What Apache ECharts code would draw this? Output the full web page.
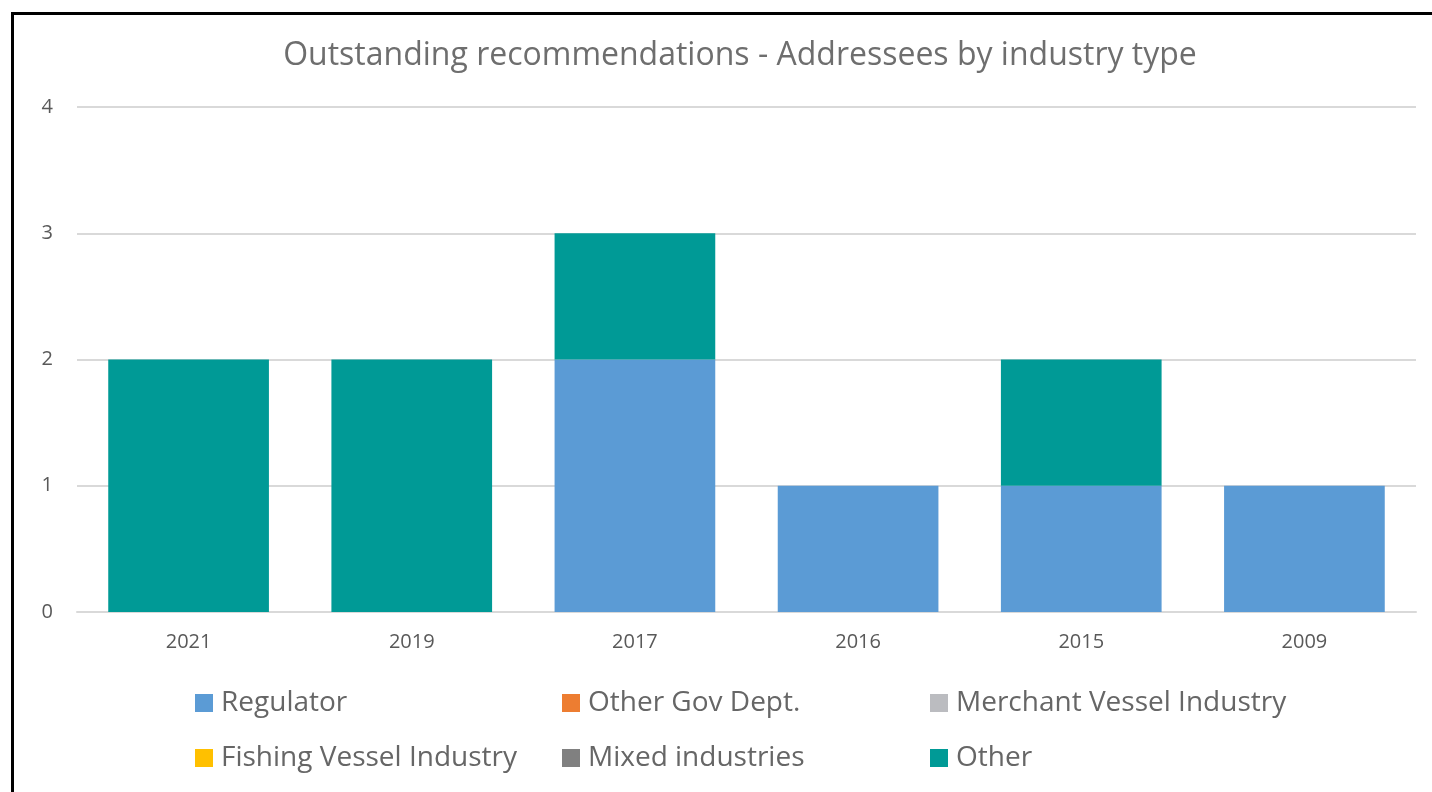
<!DOCTYPE html>
<html><head><meta charset="utf-8">
<script src="https://cdn.jsdelivr.net/npm/echarts@6/dist/echarts.min.js"></script>
<style>
html,body{margin:0;padding:0;background:#fff;overflow:hidden}
#frame{position:absolute;left:11px;top:12px;width:1440px;height:800px;border-left:3px solid #000;border-top:3px solid #000;box-sizing:border-box}
#c{position:absolute;left:0;top:0;width:1432px;height:792px}
</style></head>
<body>
<div id="frame"></div>
<div id="c"></div>
<script>
const categories = ['2021', '2019', '2017', '2016', '2015', '2009'];
const seriesNames = ['Regulator', 'Other Gov Dept.', 'Merchant Vessel Industry', 'Fishing Vessel Industry', 'Mixed industries', 'Other'];
const regulator = [0, 0, 2, 1, 1, 1];
const otherGov = [0, 0, 0, 0, 0, 0];
const merchant = [0, 0, 0, 0, 0, 0];
const fishing = [0, 0, 0, 0, 0, 0];
const mixed = [0, 0, 0, 0, 0, 0];
const other = [2, 2, 1, 0, 1, 0];
const yTicks = [0, 1, 2, 3, 4];

const colors = ['#5B9BD5', '#ED7D31', '#BBBCC0', '#FFC000', '#808080', '#009A96'];
const values = [regulator, otherGov, merchant, fishing, mixed, other];
const font = '"Open Sans", "Liberation Sans", sans-serif';
const legendCols = [195, 562, 930];
const legendRows = [689, 744];

const chart = echarts.init(document.getElementById('c'));
const legends = seriesNames.map((n, i) => ({
  left: legendCols[i % 3], top: legendRows[Math.floor(i / 3)],
  itemWidth: 18, itemHeight: 18, icon: 'rect', padding: 0,
  selectedMode: false,
  textStyle: { fontFamily: font, fontSize: 28, color: '#666666', padding: [0, 0, 0, 3] },
  data: [n]
}));
chart.setOption({
  animation: false,
  color: colors,
  title: {
    text: 'Outstanding recommendations - Addressees by industry type',
    left: 735, top: 35, textAlign: 'center',
    textStyle: { fontFamily: font, fontSize: 32, fontWeight: 'normal', color: '#6E6E6E' }
  },
  legend: legends,
  grid: { left: 77, right: 16, top: 107, bottom: 180, containLabel: false },
  xAxis: {
    type: 'category', data: categories,
    axisLine: { lineStyle: { color: '#D9D9D9', width: 2 } },
    axisTick: { show: false },
    axisLabel: { fontFamily: font, fontSize: 20, color: '#595959', margin: 20 }
  },
  yAxis: {
    type: 'value', min: yTicks[0], max: yTicks[yTicks.length - 1], interval: 1,
    axisLine: { show: false }, axisTick: { show: false },
    splitLine: { lineStyle: { color: '#D9D9D9', width: 2 } },
    axisLabel: { fontFamily: font, fontSize: 20, color: '#595959', margin: 24 }
  },
  series: seriesNames.map((n, i) => ({
    name: n, type: 'bar', stack: 'total', data: values[i],
    barCategoryGap: '28%'
  }))
});
</script>
</body></html>
